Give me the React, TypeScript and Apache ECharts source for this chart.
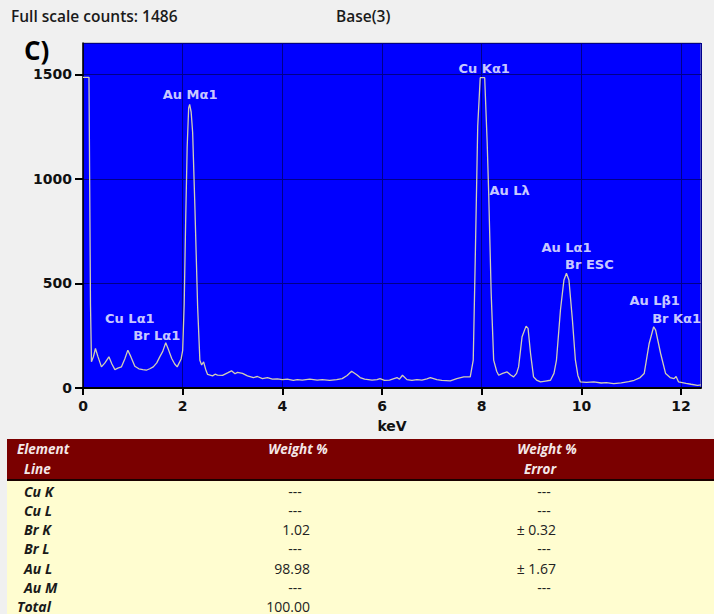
import React, { useEffect, useRef } from "react";
import * as echarts from "echarts";

// EDS spectrum: [energy keV, counts]
const spectrum: [number, number][] = [
  [0, 1486], [0.12, 1486], [0.15, 400], [0.17, 125], [0.21, 150], [0.25, 189], [0.3, 150],
  [0.37, 101], [0.44, 120], [0.52, 149], [0.58, 115], [0.64, 88], [0.7, 95], [0.77, 101],
  [0.84, 140], [0.9, 181], [0.96, 150], [1.04, 104], [1.12, 92], [1.2, 88], [1.27, 85],
  [1.34, 92], [1.41, 101], [1.48, 120], [1.54, 149], [1.6, 175], [1.66, 216], [1.72, 180],
  [1.78, 141], [1.84, 115], [1.89, 101], [1.93, 120], [1.97, 140], [2.0, 180], [2.03, 400],
  [2.06, 800], [2.09, 1150], [2.12, 1340], [2.14, 1356], [2.17, 1320], [2.2, 1222],
  [2.245, 868], [2.3, 389], [2.345, 133], [2.38, 110], [2.42, 125], [2.46, 90], [2.5, 65],
  [2.55, 62], [2.6, 58], [2.65, 66], [2.7, 62], [2.8, 60], [2.9, 72], [2.98, 82], [3.05, 68],
  [3.1, 75], [3.2, 70], [3.3, 58], [3.42, 50], [3.5, 55], [3.6, 45], [3.7, 50], [3.8, 42],
  [3.9, 44], [4.0, 40], [4.1, 42], [4.22, 36], [4.3, 40], [4.4, 38], [4.55, 42], [4.7, 38],
  [4.8, 40], [4.95, 36], [5.09, 40], [5.2, 45], [5.3, 60], [5.39, 80], [5.5, 62], [5.56, 50],
  [5.65, 42], [5.8, 38], [5.9, 40], [5.96, 45], [6.05, 36], [6.15, 38], [6.3, 50], [6.35, 42],
  [6.41, 61], [6.5, 40], [6.6, 36], [6.7, 40], [6.8, 38], [6.9, 44], [6.97, 50], [7.1, 40],
  [7.2, 36], [7.37, 34], [7.5, 45], [7.64, 53], [7.77, 53], [7.83, 133], [7.87, 612],
  [7.92, 1252], [7.97, 1484], [8.06, 1484], [8.11, 1172], [8.14, 932], [8.19, 453],
  [8.24, 133], [8.3, 80], [8.34, 61], [8.42, 70], [8.51, 77], [8.58, 62], [8.64, 53],
  [8.7, 70], [8.74, 101], [8.81, 245], [8.89, 296], [8.93, 285], [8.98, 165], [9.04, 53],
  [9.1, 38], [9.18, 29], [9.28, 33], [9.38, 37], [9.45, 70], [9.5, 133], [9.58, 373],
  [9.65, 517], [9.7, 549], [9.75, 517], [9.82, 325], [9.88, 133], [9.93, 60], [9.98, 29],
  [10.1, 27], [10.25, 29], [10.4, 24], [10.5, 26], [10.65, 21], [10.8, 25], [10.95, 30],
  [11.06, 37], [11.18, 50], [11.26, 69], [11.36, 213], [11.45, 293], [11.49, 277],
  [11.59, 165], [11.69, 69], [11.78, 50], [11.86, 45], [11.9, 55], [11.95, 29], [12.1, 22],
  [12.2, 18], [12.33, 13], [12.4, 15],
];

// Peak identifications, placed at [keV, counts]
const peakLabels: [string, number, number][] = [
  ["Cu L\u03b11", 0.94, 334],
  ["Br L\u03b11", 1.48, 252],
  ["Au M\u03b11", 2.15, 1404],
  ["Cu K\u03b11", 8.05, 1528],
  ["Au L\u03bb", 8.56, 943],
  ["Au L\u03b11", 9.7, 670],
  ["Br ESC", 10.16, 589],
  ["Au L\u03b21", 11.47, 420],
  ["Br K\u03b11", 11.91, 334],
];

// Quantification table
const elementLines = ["Cu K", "Cu L", "Br K", "Br L", "Au L", "Au M", "Total"];
const weightPct = ["---", "---", "1.02", "---", "98.98", "---", "100.00"];
const weightErr = ["---", "---", "\u00b1 0.32", "---", "\u00b1 1.67", "---", ""];

const fullScaleCounts = 1486;
const baseName = "Base(3)";

export default function App() {
  const ref = useRef<HTMLDivElement>(null);

  useEffect(() => {
    document.body.style.margin = "0";
    document.body.style.background = "#F0F0F0";
    if (!ref.current) return;
    const chart = echarts.init(ref.current, undefined, { renderer: "svg" });

    const rowY = [491, 510, 529, 548, 568, 587, 606];
    const tblFont = "'Open Sans', sans-serif";
    const headFont = `italic bold 13.5px ${tblFont}`;
    const headFill = "#F4E8E8";
    const tableGraphics: any[] = [
      { type: "rect", shape: { x: 7, y: 439, width: 707, height: 41 }, style: { fill: "#7A0000" } },
      { type: "rect", shape: { x: 7, y: 479, width: 707, height: 2 }, style: { fill: "#1A0000" } },
      { type: "rect", shape: { x: 7, y: 481, width: 707, height: 133 }, style: { fill: "#FFFDD0" } },
      { type: "text", x: 17, y: 449, style: { text: "Element", fill: headFill, font: headFont, textVerticalAlign: "middle" } },
      { type: "text", x: 24, y: 469, style: { text: "Line", fill: headFill, font: headFont, textVerticalAlign: "middle" } },
      { type: "text", x: 298, y: 449, style: { text: "Weight %", fill: headFill, font: headFont, textAlign: "center", textVerticalAlign: "middle" } },
      { type: "text", x: 547, y: 449, style: { text: "Weight %", fill: headFill, font: headFont, textAlign: "center", textVerticalAlign: "middle" } },
      { type: "text", x: 540, y: 469, style: { text: "Error", fill: headFill, font: headFont, textAlign: "center", textVerticalAlign: "middle" } },
    ];
    elementLines.forEach((name, i) => {
      tableGraphics.push({
        type: "text", x: name === "Total" ? 17 : 24, y: rowY[i],
        style: { text: name, fill: "#1A1A1A", font: `italic bold 14px ${tblFont}`, textVerticalAlign: "middle" },
      });
      const w = weightPct[i];
      tableGraphics.push({
        type: "text", x: w === "---" ? 295 : 310, y: rowY[i],
        style: { text: w, fill: "#222", font: `14px ${tblFont}`, textAlign: w === "---" ? "center" : "right", textVerticalAlign: "middle" },
      });
      const e = weightErr[i];
      if (e) {
        tableGraphics.push({
          type: "text", x: e === "---" ? 544 : 556, y: rowY[i],
          style: { text: e, fill: "#222", font: `14px ${tblFont}`, textAlign: e === "---" ? "center" : "right", textVerticalAlign: "middle" },
        });
      }
    });

    const axisFont = { fontFamily: "DejaVu Sans", fontWeight: "bold" as const, fontSize: 14, color: "#111" };
    const gridLine = { show: true, lineStyle: { color: "#00008A", width: 1 } };

    chart.setOption({
      animation: false,
      backgroundColor: "#F0F0F0",
      grid: {
        left: 83, top: 43, right: 13, bottom: 226, show: true,
        backgroundColor: "#0000FF", borderColor: "#9A9A9A", borderWidth: 1,
      },
      xAxis: {
        type: "value", min: 0, max: 12.4, interval: 2,
        name: "keV", nameLocation: "middle", nameGap: 31,
        nameTextStyle: { ...axisFont },
        axisLine: { show: true, lineStyle: { color: "#000", width: 2 } },
        axisTick: { show: true, length: 7, lineStyle: { color: "#000", width: 2 } },
        axisLabel: { ...axisFont, margin: 11, showMaxLabel: false },
        splitLine: gridLine,
      },
      yAxis: {
        type: "value", min: 0, max: 1650, interval: 500,
        axisLine: { show: true, lineStyle: { color: "#000", width: 1.5 } },
        axisTick: { show: true, length: 8, lineStyle: { color: "#000", width: 2 } },
        axisLabel: { ...axisFont, margin: 11, showMaxLabel: false, formatter: (v: number) => String(v) },
        splitLine: gridLine,
      },
      graphic: [
        { type: "text", x: 11, y: 16, style: { text: `Full scale counts: ${fullScaleCounts}`, fill: "#1A1A1A", font: "600 15.5px 'Open Sans', sans-serif", textVerticalAlign: "middle" } },
        { type: "text", x: 336, y: 16, style: { text: baseName, fill: "#1A1A1A", font: "600 15.5px 'Open Sans', sans-serif", textVerticalAlign: "middle" } },
        { type: "text", x: 24, y: 50, style: { text: "C)", fill: "#000", font: "bold 26px 'Open Sans', sans-serif", textVerticalAlign: "middle" } },
        ...tableGraphics,
      ],
      series: [
        {
          type: "line", data: spectrum, symbol: "none", silent: true,
          lineStyle: { color: "#D2CEB4", width: 1.3 },
        },
        {
          type: "scatter", symbolSize: 0, silent: true,
          data: peakLabels.map(([n, x, y]) => ({ name: n, value: [x, y] })),
          label: {
            show: true, position: "inside", formatter: (p: any) => p.name,
            color: "#FFFFFF", fontFamily: "DejaVu Sans", fontWeight: "bold", fontSize: 13,
          },
        },
      ],
    });

    return () => chart.dispose();
  }, []);

  return <div ref={ref} style={{ width: 714, height: 614 }} />;
}
